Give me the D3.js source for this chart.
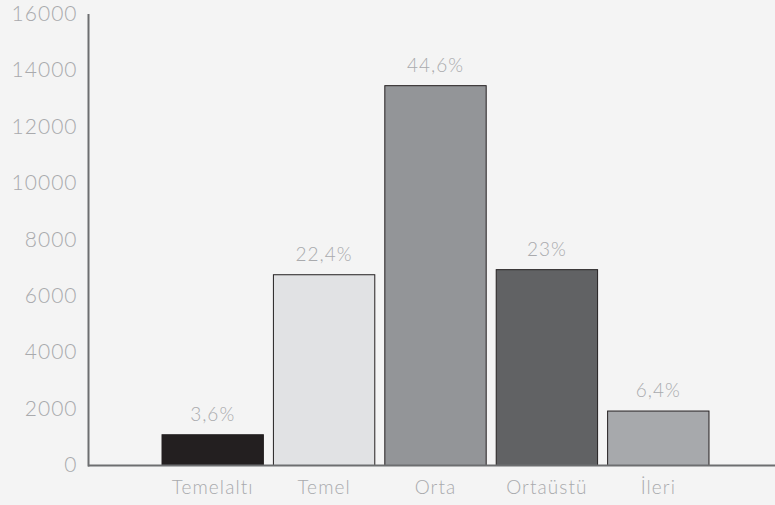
<!DOCTYPE html>
<html>
<head>
<meta charset="utf-8">
<script src="https://cdn.jsdelivr.net/npm/d3@7"></script>
<style>
  html, body { margin: 0; padding: 0; background: #f4f4f4; }
  svg { display: block; }
  text { font-family: Lato, "Noto Sans", sans-serif; font-weight: 300; fill: #a9aaad; }
</style>
</head>
<body>
<svg id="chart" width="775" height="505"></svg>
<script>
// Öğrenci dağılımı: düzeylere göre sayılar ve yüzdeler
const categories = ["Temelaltı", "Temel", "Orta", "Ortaüstü", "İleri"];
const values = [1090, 6760, 13460, 6940, 1930];
const percentLabels = ["3,6%", "22,4%", "44,6%", "23%", "6,4%"];
const barColors = ["#231f20", "#e1e2e4", "#939598", "#616264", "#a7a9ac"];
const yTicks = [0, 2000, 4000, 6000, 8000, 10000, 12000, 14000, 16000];

const svg = d3.select("#chart");

const y = d3.scaleLinear().domain([0, 16000]).range([465.5, 14]);
const x = d3.scaleBand()
  .domain(categories)
  .range([157, 714])
  .paddingInner(0.09)
  .paddingOuter(0.045);

// Y axis: labels only, plus a vertical rule
const yAxis = d3.axisLeft(y).tickValues(yTicks).tickSize(0).tickPadding(12).tickFormat(d3.format("d"));
const yg = svg.append("g").attr("transform", "translate(88.5,0)").call(yAxis);
yg.select(".domain").remove();
yg.selectAll("text")
  .style("font-size", "21px")
  .style("letter-spacing", "1px")
  .attr("dy", "0.3em")
  .attr("x", -11);

svg.append("line")
  .attr("x1", 88.5).attr("x2", 88.5)
  .attr("y1", y(16000)).attr("y2", y(0) + 1)
  .attr("stroke", "#6d6e70").attr("stroke-width", 2);

// Bars
svg.selectAll("rect.bar")
  .data(categories)
  .join("rect")
  .attr("class", "bar")
  .attr("x", d => x(d))
  .attr("width", x.bandwidth())
  .attr("y", (d, i) => y(values[i]))
  .attr("height", (d, i) => y(0) - y(values[i]))
  .attr("fill", (d, i) => barColors[i])
  .attr("stroke", "#231f20")
  .attr("stroke-width", 1);

// X axis baseline
svg.append("line")
  .attr("x1", 88).attr("x2", 775)
  .attr("y1", y(0)).attr("y2", y(0))
  .attr("stroke", "#6d6e70").attr("stroke-width", 2);

// Category labels
const xAxis = d3.axisBottom(x).tickSize(0).tickPadding(15);
const xg = svg.append("g").attr("transform", `translate(0,${y(0)})`).call(xAxis);
xg.select(".domain").remove();
xg.selectAll("text")
  .style("font-size", "19px")
  .style("letter-spacing", "1.1px");

// Percentage labels above bars
svg.selectAll("text.pct")
  .data(categories)
  .join("text")
  .attr("class", "pct")
  .attr("x", d => x(d) + x.bandwidth() / 2)
  .attr("y", (d, i) => y(values[i]) - 14)
  .attr("text-anchor", "middle")
  .style("font-size", "19px")
  .style("letter-spacing", "1px")
  .text((d, i) => percentLabels[i]);
</script>
</body>
</html>
